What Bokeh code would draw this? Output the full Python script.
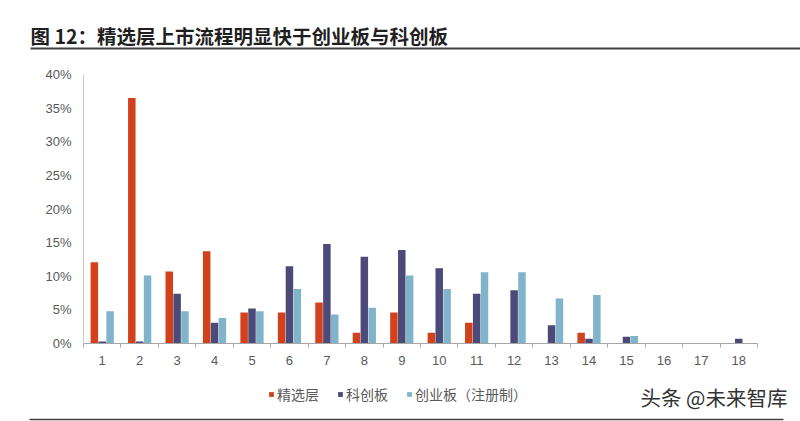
from bokeh.plotting import figure
from bokeh.layouts import column
from bokeh.models import (ColumnDataSource, Range1d, FixedTicker, NumeralTickFormatter,
                          Legend, LegendItem)
from bokeh.transform import dodge
from bokeh.core.properties import value
from bokeh.embed import file_html
from bokeh.resources import INLINE

# ---- data (percent) ----
categories = list(range(1, 19))
jingxuan = [12.1, 36.5, 10.7, 13.7, 4.6, 4.6, 6.1, 1.6, 4.6, 1.6, 3.1, 0, 0, 1.6, 0, 0, 0, 0]
kechuang = [0.3, 0.3, 7.4, 3.1, 5.2, 11.5, 14.8, 12.9, 13.9, 11.2, 7.4, 7.9, 2.7, 0.7, 1.0, 0, 0, 0.7]
chuangye = [4.8, 10.1, 4.8, 3.8, 4.8, 8.1, 4.3, 5.3, 10.1, 8.1, 10.6, 10.6, 6.7, 7.2, 1.1, 0, 0, 0]
series_names = ["精选层", "科创板", "创业板（注册制）"]
y_ticks = [0, 0.05, 0.10, 0.15, 0.20, 0.25, 0.30, 0.35, 0.40]
title_text = "图 12：精选层上市流程明显快于创业板与科创板"
watermark_text = "头条 @未来智库"

colors = ["#D2401C", "#4B4A78", "#80B4CA"]
font = "Liberation Sans"
cjk = "Noto Sans CJK SC"

src = ColumnDataSource(dict(
    x=categories,
    a=[v / 100 for v in jingxuan],
    b=[v / 100 for v in kechuang],
    c=[v / 100 for v in chuangye],
))

W = 800
HEAD_H, MAIN_H, FOOT_H = 52, 323, 46


def blank(h):
    f = figure(width=W, height=h, output_backend="svg", toolbar_location=None,
               x_range=Range1d(0, W), y_range=Range1d(h, 0),
               x_axis_type=None, y_axis_type=None,
               min_border=0, min_border_left=0, min_border_right=0,
               min_border_top=0, min_border_bottom=0, frame_align=False)
    f.outline_line_color = None
    f.grid.visible = False
    f.background_fill_color = "white"
    f.border_fill_color = "white"
    return f


# ---- header ----
head = blank(HEAD_H)
head.text(x=[30], y=[35], text=[title_text], text_font=value(cjk),
          text_font_size="19.5px", text_font_style="bold", text_color="#1F1F1F",
          text_baseline="middle", text_align="left")
head.segment(x0=[30], y0=[48], x1=[W], y1=[48], line_color="#404040", line_width=2)

# ---- main chart ----
FL, FR, FT, FB = 83, 43, 22, 32
p = figure(width=W, height=MAIN_H, output_backend="svg", toolbar_location=None,
           x_range=Range1d(0.5, 18.5), y_range=Range1d(0, 0.40),
           min_border_left=FL, min_border_right=FR, min_border_top=FT, min_border_bottom=FB,
           background_fill_color="white", border_fill_color="white", frame_align=False)
p.outline_line_color = None
p.grid.visible = False

bw = 0.2
p.vbar(x=dodge("x", -0.21, range=p.x_range), top="a", width=bw, source=src,
       fill_color=colors[0], line_color=None)
p.vbar(x=dodge("x", 0.0, range=p.x_range), top="b", width=bw, source=src,
       fill_color=colors[1], line_color=None)
p.vbar(x=dodge("x", 0.21, range=p.x_range), top="c", width=bw, source=src,
       fill_color=colors[2], line_color=None)

xa = p.xaxis[0]
xa.ticker = FixedTicker(ticks=categories, minor_ticks=[c + 0.5 for c in [0] + categories])
xa.major_tick_line_color = None
xa.major_tick_out = 0
xa.major_tick_in = 0
xa.minor_tick_out = 4
xa.minor_tick_in = 0
xa.minor_tick_line_color = "#A6A6A6"
xa.axis_line_color = "#A6A6A6"
xa.major_label_text_font = font
xa.major_label_text_font_size = "13px"
xa.major_label_text_color = "#595959"
xa.major_label_standoff = 8

ya = p.yaxis[0]
ya.ticker = FixedTicker(ticks=y_ticks)
ya.formatter = NumeralTickFormatter(format="0%")
ya.major_tick_line_color = None
ya.minor_tick_line_color = None
ya.major_tick_out = 0
ya.major_tick_in = 0
ya.axis_line_color = "#C8C8C8"
ya.major_label_text_font = font
ya.major_label_text_font_size = "13px"
ya.major_label_text_color = "#595959"
ya.major_label_standoff = 12

# ---- footer (legend, watermark, rule) ----
foot = blank(FOOT_H)
f1 = foot.vbar(x="x", top="a", width=bw, source=src, fill_color=colors[0], line_color=None)
f2 = foot.vbar(x="x", top="b", width=bw, source=src, fill_color=colors[1], line_color=None)
f3 = foot.vbar(x="x", top="c", width=bw, source=src, fill_color=colors[2], line_color=None)
for r in (f1, f2, f3):
    r.visible = False

legend = Legend(items=[LegendItem(label=series_names[0], renderers=[f1]),
                       LegendItem(label=series_names[1], renderers=[f2]),
                       LegendItem(label=series_names[2], renderers=[f3])],
                orientation="horizontal", location=(268, 17), click_policy="none",
                glyph_width=6, glyph_height=6, label_standoff=3, spacing=18,
                padding=0, margin=0, border_line_color=None, background_fill_alpha=0,
                label_text_font=cjk, label_text_font_size="14px",
                label_text_color="#595959")
foot.add_layout(legend, "center")

foot.text(x=[640], y=[21], text=[watermark_text], text_font=value(cjk),
          text_font_size="20.5px", text_color="#333333",
          text_baseline="middle", text_align="left")
foot.segment(x0=[29], y0=[44], x1=[783], y1=[44], line_color="#404040", line_width=1.5)

layout = column(head, p, foot, spacing=0)
open("out.html", "w").write(file_html(layout, INLINE))
